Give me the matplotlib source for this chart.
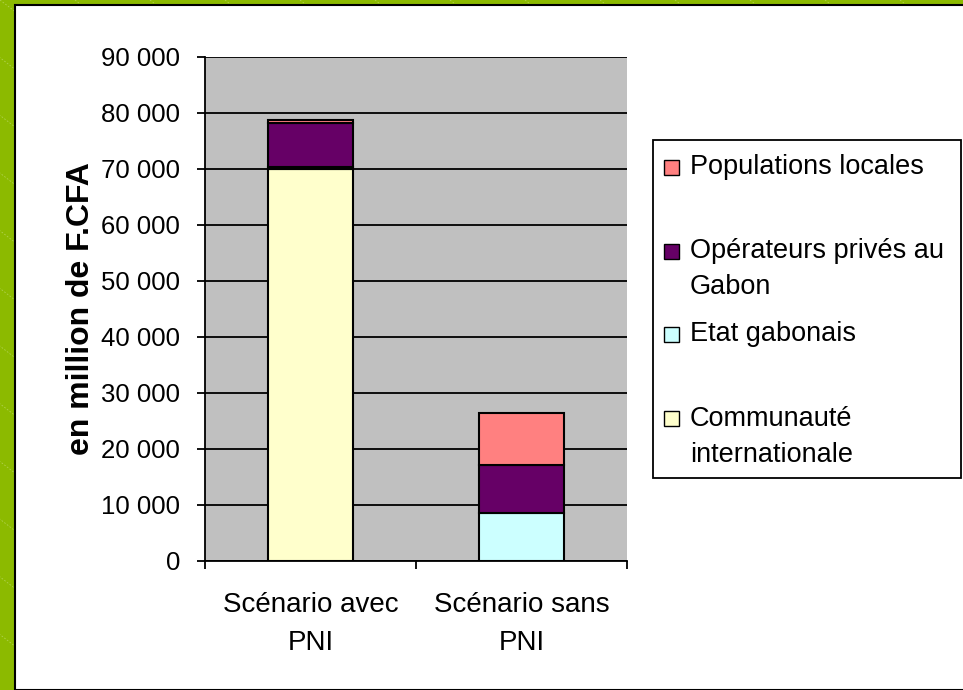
import matplotlib
matplotlib.use("Agg")
import matplotlib.pyplot as plt
from matplotlib.patches import Rectangle
from matplotlib.lines import Line2D
from matplotlib.ticker import FuncFormatter
import numpy as np

plt.rcParams['font.family'] = ['Liberation Sans', 'DejaVu Sans']

# ---- data ----
categories = ["Scénario avec\nPNI", "Scénario sans\nPNI"]
series_names = ["Communauté\ninternationale", "Etat gabonais",
                "Opérateurs privés au\nGabon", "Populations locales"]
communaute = [70000, 0]
etat = [300, 8600]
operateurs = [7900, 8600]
populations = [500, 9300]
series_values = [communaute, etat, operateurs, populations]
colors = ["#FFFFCC", "#CCFFFF", "#660066", "#FF8080"]
y_ticks = list(range(0, 90001, 10000))

W, H = 963, 690
fig = plt.figure(figsize=(W / 100, H / 100), dpi=100)
fig.patch.set_facecolor("#8CBA00")

def fx(px):
    return px / W

def fy(py):
    return 1 - py / H

# faint diagonal stripes on the green frame
for k in range(-20, 30):
    x0 = k * 75
    fig.add_artist(Line2D([fx(x0), fx(x0 + 1300)], [fy(0), fy(1000)],
                          color="#C8E080", lw=0.6, ls=(0, (2, 2)), alpha=0.6, zorder=0))

# white panel
fig.add_artist(Rectangle((fx(15), 0), 1 - fx(15) + 0.01, fy(5), transform=fig.transFigure,
                         facecolor="white", edgecolor="black", lw=1.5, zorder=1))

ax = fig.add_axes([fx(205), fy(561), fx(627) - fx(205), fy(57) - fy(561)], zorder=2)
ax.set_facecolor("#C0C0C0")

x = np.arange(len(categories))
bottom = np.zeros(len(categories))
for vals, col in zip(series_values, colors):
    ax.bar(x, vals, width=0.4, bottom=bottom, color=col, edgecolor="black",
           linewidth=1.5, zorder=3)
    bottom += np.array(vals)

ax.set_xlim(-0.5, 1.5)
ax.set_ylim(0, 90000)
ax.set_yticks(y_ticks)
ax.yaxis.set_major_formatter(FuncFormatter(lambda v, p: f"{int(v):,}".replace(",", " ")))
ax.grid(axis="y", color="black", lw=1.3, zorder=1)
ax.set_axisbelow(True)

ax.set_xticks([-0.5, 0.5, 1.5])
ax.set_xticklabels([])
ax.set_xticks(x, minor=True)
ax.set_xticklabels(categories, minor=True, fontsize=20, linespacing=1.6)
ax.tick_params(axis="x", which="minor", length=0, pad=22)
ax.tick_params(axis="x", which="major", length=6, width=1.3, direction="out")
ax.tick_params(axis="y", length=6, width=1.3, direction="out", labelsize=18.5, pad=12)

for s in ["top", "right"]:
    ax.spines[s].set_visible(False)
for s in ["left", "bottom"]:
    ax.spines[s].set_color("black")
    ax.spines[s].set_linewidth(1.3)

ax.set_ylabel("en million de F.CFA", fontsize=23, fontweight="bold")
ax.yaxis.set_label_coords((96 - 205) / 422, 0.5)

# legend (manual, Excel-like)
fig.add_artist(Rectangle((fx(653), fy(478)), fx(961) - fx(653), fy(140) - fy(478),
                         transform=fig.transFigure, facecolor="white",
                         edgecolor="black", lw=1.3, zorder=3))
legend_order = [3, 2, 1, 0]
first_line_y = [167, 251, 334, 419]
for yy, idx in zip(first_line_y, legend_order):
    fig.add_artist(Rectangle((fx(664), fy(yy + 7.5)), fx(15), 15 / H,
                             transform=fig.transFigure, facecolor=colors[idx],
                             edgecolor="black", lw=1.0, zorder=4))
    for j, line in enumerate(series_names[idx].split("\n")):
        fig.text(fx(690), fy(yy + 36 * j), line, fontsize=19.5, va="center",
                 ha="left", zorder=5)

fig.savefig("out.png", dpi=100, facecolor=fig.get_facecolor())
